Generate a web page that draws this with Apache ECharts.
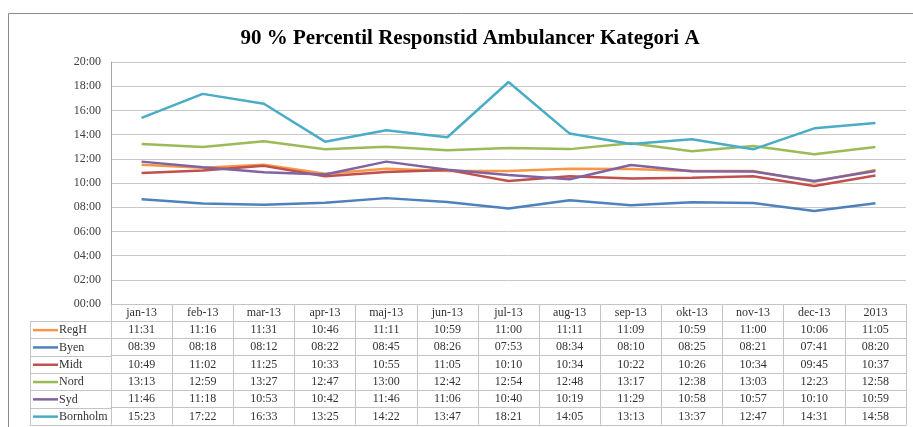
<!DOCTYPE html>
<html>
<head>
<meta charset="utf-8">
<script src="https://cdn.jsdelivr.net/npm/echarts@6/dist/echarts.min.js"></script>
<style>
  html, body { margin: 0; padding: 0; background: #fff; }
  #chart { width: 913px; height: 427px; }
</style>
</head>
<body>
<div id="chart"></div>
<script>
// kategorier (måneder + år)
const months = ['jan-13', 'feb-13', 'mar-13', 'apr-13', 'maj-13', 'jun-13', 'jul-13', 'aug-13', 'sep-13', 'okt-13', 'nov-13', 'dec-13', '2013']

// responstider pr. region (tt:mm)
const regH = ['11:31', '11:16', '11:31', '10:46', '11:11', '10:59', '11:00', '11:11', '11:09', '10:59', '11:00', '10:06', '11:05']
const byen = ['08:39', '08:18', '08:12', '08:22', '08:45', '08:26', '07:53', '08:34', '08:10', '08:25', '08:21', '07:41', '08:20']
const midt = ['10:49', '11:02', '11:25', '10:33', '10:55', '11:05', '10:10', '10:34', '10:22', '10:26', '10:34', '09:45', '10:37']
const nord = ['13:13', '12:59', '13:27', '12:47', '13:00', '12:42', '12:54', '12:48', '13:17', '12:38', '13:03', '12:23', '12:58']
const syd = ['11:46', '11:18', '10:53', '10:42', '11:46', '11:06', '10:40', '10:19', '11:29', '10:58', '10:57', '10:10', '10:59']
const bornholm = ['15:23', '17:22', '16:33', '13:25', '14:22', '13:47', '18:21', '14:05', '13:13', '13:37', '12:47', '14:31', '14:58']

const seriesNames = ['RegH', 'Byen', 'Midt', 'Nord', 'Syd', 'Bornholm']
const seriesValues = [regH, byen, midt, nord, syd, bornholm]
const colors = ['#F79646', '#4F81BD', '#C0504D', '#9BBB59', '#8064A2', '#4BACC6']

// y-akse: 00:00 - 20:00 i minutter
const yMin = 0
const yMax = 1200
const yStep = 120

const toMin = (s) => {
  const [h, m] = s.split(':')
  return Number(h) * 60 + Number(m)
}
const pad = (n) => (n < 10 ? '0' : '') + n
const fmtTime = (v) => pad(Math.floor(v / 60)) + ':' + pad(v % 60)

// layout for tabellen under grafen
const gridTop = 62
const gridBottomY = 304
const headerH = 17
const rowH = 17.3
const legendLeft = 30
const gridLeft = 111
const lineColor = '#c4c4c4'
const textColor = '#333333'
const serif = '"Liberation Serif", "DejaVu Serif", serif'

const chart = echarts.init(document.getElementById('chart'))

// række-akser (en pr. serie) som danner datatabellen
const rowAxes = seriesValues.map((vals, i) => ({
  type: 'category',
  data: months,
  gridIndex: 0,
  position: 'bottom',
  offset: headerH + rowH * i,
  boundaryGap: true,
  axisLine: { show: true, lineStyle: { color: lineColor, width: 1 } },
  axisTick: { show: false },
  axisLabel: {
    interval: 0,
    margin: 3,
    fontFamily: serif,
    fontSize: 12,
    color: textColor,
    formatter: (v, idx) => vals[idx]
  },
  splitLine: { show: false }
}))

const tableBottom = headerH + rowH * seriesValues.length

// linjer i legend-kolonnen
const legendLines = []
for (let i = 0; i <= seriesValues.length; i++) {
  const y = Math.round(gridBottomY + headerH + rowH * i) + 0.5
  legendLines.push({
    type: 'line',
    shape: { x1: legendLeft + 0.5, y1: y, x2: gridLeft, y2: y },
    style: { stroke: lineColor, lineWidth: 1 }
  })
}
legendLines.push({
  type: 'line',
  shape: {
    x1: legendLeft + 0.5, y1: gridBottomY + headerH,
    x2: legendLeft + 0.5, y2: Math.round(gridBottomY + tableBottom) + 0.5
  },
  style: { stroke: lineColor, lineWidth: 1 }
})

const option = {
  animation: false,
  backgroundColor: '#ffffff',
  title: {
    text: '90 % Percentil Responstid Ambulancer Kategori A',
    left: 465,
    textAlign: 'center',
    top: 23,
    textStyle: {
      fontFamily: serif,
      fontWeight: 'bold',
      fontSize: 21,
      color: '#000000'
    }
  },
  legend: {
    data: seriesNames.map((n) => ({ name: n, icon: 'rect' })),
    orient: 'vertical',
    left: legendLeft + 3,
    top: gridBottomY + headerH + 0.5,
    padding: 0,
    itemWidth: 25,
    itemHeight: 2.5,
    itemGap: 0,
    selectedMode: false,
    textStyle: {
      fontFamily: serif,
      fontSize: 12,
      lineHeight: rowH,
      color: textColor,
      padding: [0, 0, 0, -4]
    }
  },
  grid: {
    left: gridLeft,
    right: 7,
    top: gridTop,
    bottom: 427 - gridBottomY
  },
  xAxis: [
    {
      type: 'category',
      data: months,
      gridIndex: 0,
      position: 'bottom',
      boundaryGap: true,
      axisLine: { show: true, lineStyle: { color: lineColor, width: 1 } },
      axisTick: {
        show: true,
        interval: 0,
        length: tableBottom,
        lineStyle: { color: lineColor, width: 1 }
      },
      axisLabel: {
        interval: 0,
        margin: 3,
        fontFamily: serif,
        fontSize: 12,
        color: textColor
      },
      splitLine: { show: false }
    },
    ...rowAxes,
    {
      type: 'category',
      data: months,
      gridIndex: 0,
      position: 'bottom',
      offset: tableBottom,
      axisLine: { show: true, lineStyle: { color: lineColor, width: 1 } },
      axisTick: { show: false },
      axisLabel: { show: false }
    }
  ],
  yAxis: {
    type: 'value',
    min: yMin,
    max: yMax,
    interval: yStep,
    axisLine: { show: true, lineStyle: { color: '#a6a6a6', width: 1 } },
    axisTick: { show: false },
    axisLabel: {
      margin: 10,
      fontFamily: serif,
      fontSize: 12,
      color: '#404040',
      formatter: fmtTime
    },
    splitLine: { lineStyle: { color: '#c8c8c8', width: 1 } }
  },
  series: seriesNames.map((name, i) => ({
    name: name,
    type: 'line',
    xAxisIndex: 0,
    symbol: 'none',
    color: colors[i],
    lineStyle: { width: 2.5, color: colors[i] },
    data: seriesValues[i].map(toMin)
  })),
  graphic: [
    {
      type: 'rect',
      shape: { x: 8.5, y: 13.5, width: 930, height: 430 },
      style: { fill: 'none', stroke: '#8c8c8c', lineWidth: 1 },
      silent: true
    },
    ...legendLines
  ]
}

chart.setOption(option)
</script>
</body>
</html>
